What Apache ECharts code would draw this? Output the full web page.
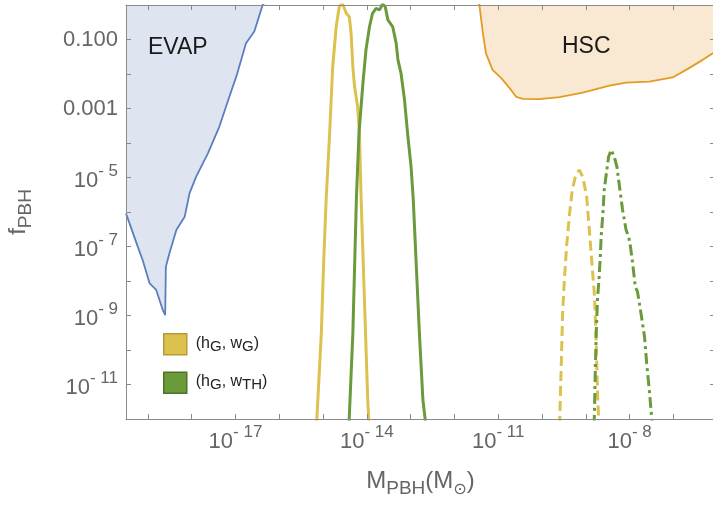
<!DOCTYPE html>
<html><head><meta charset="utf-8">
<script src="https://cdn.jsdelivr.net/npm/echarts@6/dist/echarts.min.js"></script>
<style>html,body{margin:0;padding:0;background:#fff}#c{width:713px;height:508px}</style>
</head><body><div id="c"></div>
<script>
// All values are log10: x = log10(M_PBH / M_sun), y = log10(f_PBH)
const evapX = [-19.50, -19.23, -19.12, -18.96, -18.81, -18.66, -18.605, -18.59, -18.51, -18.35, -18.16, -18.05, -17.90, -17.63, -17.37, -17.14, -16.98, -16.76, -16.57, -16.38, -16.30];
const evapY = [-6.04, -7.01, -7.39, -8.07, -8.26, -8.84, -8.99, -7.59, -7.20, -6.52, -6.14, -5.46, -4.98, -4.30, -3.53, -2.66, -2.07, -1.11, -0.77, 0.0, 0.3];

const hscX = [-11.45, -11.43, -11.35, -11.28, -11.13, -10.93, -10.74, -10.59, -10.44, -10.06, -9.60, -9.07, -8.46, -8.08, -7.55, -7.02, -6.71, -6.33, -6.10, -5.80];
const hscY = [0.3, 0.0, -0.82, -1.40, -1.88, -2.12, -2.41, -2.66, -2.72, -2.73, -2.67, -2.54, -2.34, -2.25, -2.22, -2.10, -1.88, -1.59, -1.40, -1.10];

const gaussSolidX = [-15.15, -15.04, -14.99, -14.93, -14.85, -14.78, -14.70, -14.63, -14.56, -14.47, -14.40, -14.36, -14.32, -14.28, -14.21, -14.17, -14.13, -14.08, -14.03, -13.98, -13.95];
const gaussSolidY = [-12.2, -9.52, -7.59, -5.65, -3.72, -1.79, -0.63, -0.05, 0.05, -0.24, -0.34, -0.82, -1.79, -2.37, -2.95, -3.72, -5.65, -7.59, -9.52, -11.45, -12.2];

const thSolidX = [-14.41, -14.32, -14.28, -14.24, -14.18, -14.09, -14.02, -13.94, -13.87, -13.79, -13.71, -13.64, -13.58, -13.52, -13.41, -13.33, -13.29, -13.22, -13.14, -13.07, -12.99, -12.94, -12.87, -12.80, -12.72, -12.65];
const thSolidY = [-12.2, -9.52, -7.59, -5.65, -3.72, -2.27, -1.30, -0.63, -0.24, -0.10, -0.14, 0.03, -0.05, -0.43, -0.63, -1.11, -1.59, -1.98, -2.75, -3.72, -4.69, -5.65, -7.59, -9.52, -11.45, -12.2];

const gaussDashX = [-9.60, -9.56, -9.53, -9.49, -9.44, -9.37, -9.31, -9.24, -9.15, -9.07, -8.98, -8.92, -8.86, -8.80, -8.76, -8.73, -8.70];
const gaussDashY = [-12.2, -10.39, -8.94, -7.97, -7.01, -6.04, -5.36, -4.98, -4.78, -4.98, -5.56, -6.52, -7.49, -8.46, -9.90, -11.35, -12.2];

const thDashX = [-8.81, -8.78, -8.76, -8.73, -8.70, -8.67, -8.65, -8.61, -8.58, -8.52, -8.48, -8.42, -8.35, -8.29, -8.23, -8.16, -8.08, -8.02, -7.98, -7.93, -7.87, -7.82, -7.74, -7.66, -7.61, -7.55, -7.48];
const thDashY = [-12.2, -10.39, -9.42, -8.46, -7.97, -7.30, -6.72, -6.04, -5.36, -4.78, -4.40, -4.20, -4.40, -4.69, -5.27, -5.94, -6.52, -6.72, -7.01, -7.49, -8.17, -8.31, -8.94, -9.61, -10.39, -11.16, -12.2];

const xTickExps = [-19, -18, -17, -16, -15, -14, -13, -12, -11, -10, -9, -8, -7];
const xLabelExps = [-17, -14, -11, -8];
const yLabelExps = [-1, -3, -5, -7, -9, -11];

const X_MIN = -19.5, X_MAX = -6.05, Y_MIN = -12, Y_MAX = 0;

function zip(xs, ys) { return xs.map((x, i) => [x, ys[i]]); }

const FONT = 'Liberation Sans';
const GREY = '#666666';
const FRAME = '#8a8a8a';
const YELLOW = '#dcc14f';
const GREEN = '#6a9a3a';

const tickRich = {
  p: { fontFamily: FONT, fontSize: 22, color: GREY, lineHeight: 24 },
  b: { fontFamily: FONT, fontSize: 22, color: GREY, lineHeight: 29, verticalAlign: 'bottom' },
  s: { fontFamily: FONT, fontSize: 17, color: GREY, lineHeight: 17, verticalAlign: 'top' }
};
function powLabel(v) {
  const e = Math.round(v);
  if (e === -1) return '{p|0.100}';
  if (e === -3) return '{p|0.001}';
  return '{b|10}{s|- ' + (-e) + '}';
}

const nameRich = {
  m: { fontFamily: FONT, fontSize: 24, color: GREY, lineHeight: 30, verticalAlign: 'bottom', padding: [0, 0, 5, 0] },
  sub: { fontFamily: FONT, fontSize: 19, color: GREY, lineHeight: 19, verticalAlign: 'bottom' },
  sym: { fontFamily: 'DejaVu Sans', fontSize: 16, color: GREY, lineHeight: 16, verticalAlign: 'bottom' }
};

const legendRich = {
  n: { fontFamily: FONT, fontSize: 16, color: '#222', lineHeight: 20, verticalAlign: 'bottom', padding: [0, 0, 3, 0] },
  s: { fontFamily: FONT, fontSize: 15, color: '#222', lineHeight: 15, verticalAlign: 'bottom' }
};
const legendNames = { gw: '{n|(h}{s|G}{n|, w}{s|G}{n|)}', gth: '{n|(h}{s|G}{n|, w}{s|TH}{n|)}' };

const chart = echarts.init(document.getElementById('c'), null, { renderer: 'canvas' });

function frameAxis(extra) {
  return Object.assign({
    type: 'value', z: 5,
    axisLine: { show: true, onZero: false, lineStyle: { color: FRAME, width: 1 } },
    axisTick: { show: true, inside: true, length: 5, lineStyle: { color: FRAME, width: 1 } },
    splitLine: { show: false }
  }, extra);
}

chart.setOption({
  animation: false,
  backgroundColor: '#ffffff',
  grid: { left: 126, top: 5, width: 589, height: 414, outerBoundsMode: 'none', containLabel: false },
  xAxis: [
    frameAxis({
      position: 'bottom', min: X_MIN, max: X_MAX,
      axisTick: { show: true, inside: true, length: 5, customValues: xTickExps, lineStyle: { color: FRAME, width: 1 } },
      axisLabel: { show: true, customValues: xLabelExps, margin: 5, formatter: powLabel, rich: tickRich },
      name: '{m|M}{sub|PBH}{m|(M}{sym|⊙}{m|)}',
      nameLocation: 'middle', nameGap: 49,
      nameTextStyle: { rich: nameRich }
    }),
    frameAxis({
      position: 'top', min: X_MIN, max: X_MAX,
      axisTick: { show: true, inside: true, length: 5, customValues: xTickExps, lineStyle: { color: FRAME, width: 1 } },
      axisLabel: { show: false }
    })
  ],
  yAxis: [
    frameAxis({
      position: 'left', min: Y_MIN, max: Y_MAX, interval: 1,
      axisLabel: { show: true, customValues: yLabelExps, margin: 8, formatter: powLabel, rich: tickRich },
      name: '{m|f}{sub|PBH}',
      nameLocation: 'middle', nameRotate: 90, nameGap: 91,
      nameTextStyle: { rich: nameRich }
    }),
    frameAxis({
      position: 'right', min: Y_MIN, max: Y_MAX, interval: 1,
      axisLabel: { show: false }
    })
  ],
  legend: {
    orient: 'vertical', left: 163, top: 333, padding: 0,
    itemWidth: 23, itemHeight: 21, itemGap: 16, icon: 'rect',
    data: [
      { name: 'gw', itemStyle: { color: YELLOW, borderColor: '#b59b35', borderWidth: 1.5 } },
      { name: 'gth', itemStyle: { color: GREEN, borderColor: '#4c7426', borderWidth: 1.5 } }
    ],
    formatter: n => legendNames[n],
    textStyle: { rich: legendRich, padding: [0, 0, 0, 4] },
    selectedMode: false
  },
  graphic: [
    { type: 'text', left: 148, top: 36, z: 20, style: { text: 'EVAP', font: '23px "Liberation Sans"', fill: '#1a1a1a' } },
    { type: 'text', left: 562, top: 35, z: 20, style: { text: 'HSC', font: '23px "Liberation Sans"', fill: '#1a1a1a' } }
  ],
  series: [
    {
      name: 'EVAP', type: 'line', data: zip(evapX, evapY), symbol: 'none', z: 1,
      lineStyle: { color: '#5b7fbe', width: 1.8 },
      areaStyle: { color: '#dee5f0', opacity: 1, origin: 'end' }
    },
    {
      name: 'HSC', type: 'line', data: zip(hscX, hscY), symbol: 'none', z: 1,
      lineStyle: { color: '#e39b22', width: 1.8 },
      areaStyle: { color: '#f9e9d3', opacity: 1, origin: 'end' }
    },
    {
      name: 'gw', type: 'line', data: zip(gaussSolidX, gaussSolidY), symbol: 'none', z: 3,
      itemStyle: { color: YELLOW },
      lineStyle: { color: YELLOW, width: 3 }
    },
    {
      name: 'gth', type: 'line', data: zip(thSolidX, thSolidY), symbol: 'none', z: 3,
      itemStyle: { color: GREEN },
      lineStyle: { color: GREEN, width: 3 }
    },
    {
      name: 'gwDash', type: 'line', data: zip(gaussDashX, gaussDashY), symbol: 'none', z: 3,
      lineStyle: { color: YELLOW, width: 3, type: [10, 5] }
    },
    {
      name: 'gthDash', type: 'line', data: zip(thDashX, thDashY), symbol: 'none', z: 3,
      lineStyle: { color: GREEN, width: 3, type: [11, 4, 3, 4] }
    }
  ]
});
</script>
</body></html>
